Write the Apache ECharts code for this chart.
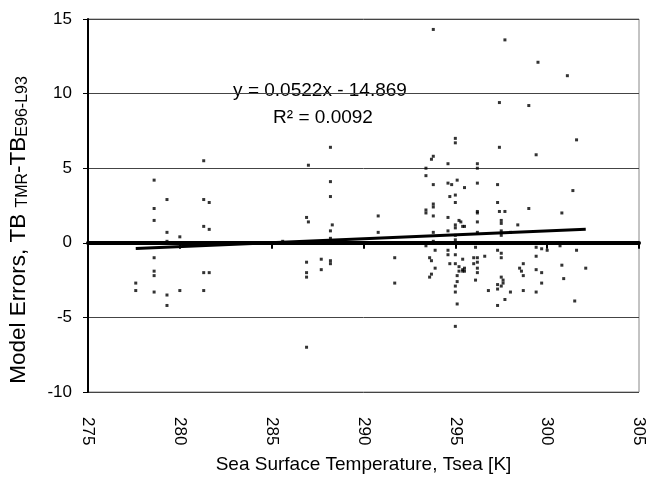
<!DOCTYPE html>
<html>
<head>
<meta charset="utf-8">
<script src="https://cdn.jsdelivr.net/npm/echarts@6/dist/echarts.min.js"></script>
<style>
html,body{margin:0;padding:0;background:#fff;}
#chart{width:653px;height:479px;}
</style>
</head>
<body>
<div id="chart"></div>
<script>
// Sea surface temperature [K] of each observation
var sstValues = [
  278.6,281.3,279.3,278.6,278.6,281.3,281.6,281.3,281.6,279.3,280.0,279.3,278.6,278.6,278.6,281.3,281.6,277.6,277.6,278.6,279.3,280.0,281.3,279.3,
  285.6,287.0,288.2,288.2,288.2,286.9,287.0,288.3,288.2,288.2,286.9,287.7,288.2,288.2,287.7,286.9,286.9,286.9,290.8,290.8,291.7,291.7,
  293.8,295.0,295.0,293.8,293.7,294.6,293.4,293.4,293.8,294.6,295.1,294.8,295.5,295.0,294.7,295.0,293.4,293.4,293.8,293.8,293.8,294.6,
  295.2,295.0,295.5,295.0,293.8,294.6,295.0,293.8,295.0,293.4,293.9,294.6,294.6,295.0,293.6,293.7,294.7,295.0,295.2,295.5,295.5,293.9,
  293.7,293.6,295.2,295.1,295.1,295.0,295.0,295.1,295.0,
  297.7,299.5,301.1,297.4,299.0,301.6,297.4,299.4,296.2,296.2,296.2,297.3,301.4,297.3,296.2,296.2,297.4,297.7,299.0,300.8,295.3,295.4,
  296.2,297.5,297.5,298.4,297.5,297.5,298.0,296.2,296.1,297.3,297.5,297.5,299.4,299.7,300.0,300.7,301.6,299.4,295.4,295.4,295.4,296.0,
  296.0,296.2,296.2,296.2,296.2,296.6,296.1,298.7,298.5,298.6,298.7,299.4,299.7,300.8,302.1,297.5,297.6,297.6,299.7,300.9,297.3,297.5,
  297.3,296.8,298.0,298.7,299.4,297.7,297.3,301.5
];
// Model errors TB(TMR) - TB(E96-L93) of each observation
var errorValues = [
  4.2,5.5,2.9,2.3,1.5,2.9,2.7,1.1,0.9,0.7,0.4,0.1,-1.0,-1.9,-2.2,-2.0,-2.0,-2.7,-3.2,-3.3,-3.5,-3.2,-3.2,-4.2,
  0.1,5.2,6.4,4.1,3.1,1.7,1.4,1.2,0.8,0.3,-1.3,-1.1,-1.2,-1.4,-1.8,-2.0,-2.3,-7.0,1.8,0.7,-1.0,-2.7,
  14.3,7.0,6.7,5.8,5.6,5.3,5.0,4.5,3.9,4.0,4.2,3.9,3.7,3.2,3.1,2.7,2.2,2.0,2.6,2.4,1.8,1.7,
  1.5,1.2,1.1,1.0,0.7,0.8,0.5,0.1,0.2,-0.2,-0.5,-0.5,-0.8,-0.8,-1.0,-1.2,-1.4,-1.4,-1.6,-1.7,-1.9,-1.7,
  -2.1,-2.3,-1.9,-2.2,-2.6,-2.9,-3.3,-4.1,-5.6,
  13.6,12.1,11.2,9.4,9.2,6.9,6.4,5.9,5.3,5.0,4.0,3.9,3.5,2.7,2.1,2.0,2.1,2.1,2.3,2.0,1.4,1.1,
  1.4,1.5,1.3,1.2,0.8,0.5,0.7,0.7,-0.3,-0.5,-0.7,-1.0,-0.3,-0.4,-0.5,-0.2,-0.5,-0.9,-1.1,-1.8,-1.9,-1.0,
  -1.4,-1.0,-1.3,-1.7,-2.0,-0.9,-2.5,-1.4,-1.7,-1.9,-2.2,-1.8,-2.0,-1.5,-1.7,-2.3,-2.5,-2.7,-2.7,-2.4,-2.8,-2.9,
  -3.1,-3.2,-3.3,-3.2,-3.3,-3.8,-4.2,-3.9
];
// Linear trendline reported on the chart
var trendSlope = 0.0522;
var trendIntercept = -14.869;
var trendLabel = 'y = 0.0522x - 14.869';
var r2Label = 'R\u00B2 = 0.0092';
var xTicks = [275, 280, 285, 290, 295, 300, 305];
var yTicks = [-10, -5, 0, 5, 10, 15];

var points = sstValues.map(function (x, i) { return [x, errorValues[i]]; });
var xMin = Math.min.apply(null, sstValues);
var xMax = Math.max.apply(null, sstValues);
var trend = [[xMin, trendSlope * xMin + trendIntercept], [xMax, trendSlope * xMax + trendIntercept]];

var FONT = '"Liberation Sans", Arial, sans-serif';
var chart = echarts.init(document.getElementById('chart'), null, {renderer: 'canvas'});
chart.setOption({
  animation: false,
  backgroundColor: '#fff',
  grid: {left: 88, right: 14, top: 19, bottom: 77, show: true, borderColor: '#888', borderWidth: 1, backgroundColor: 'transparent'},
  xAxis: [{
    type: 'value', min: xTicks[0], max: xTicks[xTicks.length - 1], interval: 5,
    position: 'bottom',
    axisLine: {show: false, onZero: false},
    axisTick: {show: false},
    splitLine: {show: false},
    axisLabel: {rotate: -90, margin: 25, fontSize: 17, color: '#000', fontFamily: FONT},
    name: 'Sea Surface Temperature, Tsea [K]',
    nameLocation: 'middle', nameGap: 63,
    nameTextStyle: {fontSize: 19, color: '#000', fontFamily: FONT}
  }, {
    type: 'value', min: xTicks[0], max: xTicks[xTicks.length - 1], interval: 5,
    position: 'top',
    axisLine: {show: true, onZero: true, lineStyle: {color: '#000', width: 4}},
    axisTick: {show: true, inside: true, length: 6, lineStyle: {color: '#000', width: 2}},
    axisLabel: {show: false},
    splitLine: {show: false}
  }],
  yAxis: {
    type: 'value', min: yTicks[0], max: yTicks[yTicks.length - 1], interval: 5,
    axisLine: {show: true, lineStyle: {color: '#000', width: 2}},
    axisTick: {show: true, length: 5, lineStyle: {color: '#000', width: 1}},
    axisLabel: {margin: 16, fontSize: 17, color: '#000', fontFamily: FONT},
    splitLine: {show: true, lineStyle: {color: '#444', width: 1}}
  },
  graphic: [{
    type: 'text', x: 19, y: 230, rotation: Math.PI / 2,
    style: {
      text: 'Model Errors, TB {s|TMR}-TB{s|E96-L93}',
      fontSize: 22.5, fontFamily: FONT, fill: '#000', align: 'center', verticalAlign: 'middle',
      rich: {s: {fontSize: 16, fontFamily: FONT, fill: '#000', verticalAlign: 'bottom', padding: [7, 0, 0, 0]}}
    }
  }, {
    type: 'text', x: 320, y: 91,
    style: {text: trendLabel, fontSize: 19, fontFamily: FONT, fill: '#000', align: 'center', verticalAlign: 'middle'}
  }, {
    type: 'text', x: 323, y: 118,
    style: {text: r2Label, fontSize: 19, fontFamily: FONT, fill: '#000', align: 'center', verticalAlign: 'middle'}
  }],
  series: [{
    type: 'scatter', data: points, symbol: 'rect', symbolSize: 3,
    itemStyle: {color: '#000'}, z: 3
  }, {
    type: 'line', data: trend, symbol: 'none', lineStyle: {color: '#000', width: 3}, z: 4
  }]
});
</script>
</body>
</html>
